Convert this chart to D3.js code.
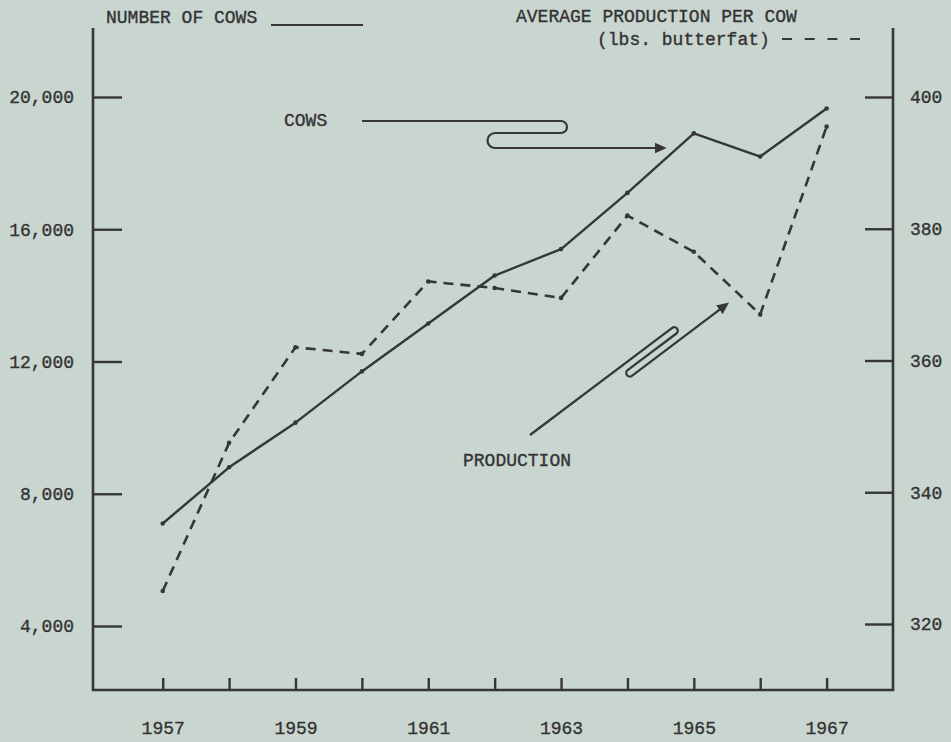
<!DOCTYPE html>
<html>
<head>
<meta charset="utf-8">
<script src="https://cdn.jsdelivr.net/npm/d3@7"></script>
<style>
  body { margin: 0; background: #c9d5cf; }
  svg { display: block; }
  text { font-family: "Liberation Mono", "Courier New", monospace; font-size: 18px; fill: #333; stroke: #333; stroke-width: 0.35px; }
</style>
</head>
<body>
<div id="chart"></div>
<script>
// data
var years = [1957, 1958, 1959, 1960, 1961, 1962, 1963, 1964, 1965, 1966, 1967];
var cows = [7100, 8800, 10150, 11700, 13150, 14600, 15400, 17100, 18900, 18200, 19650];
var production = [325, 347.5, 362, 361, 372, 371, 369.5, 382, 376.5, 367, 395.5];

var cowTicks = [4000, 8000, 12000, 16000, 20000];
var prodTicks = [320, 340, 360, 380, 400];
var yearLabels = [1957, 1959, 1961, 1963, 1965, 1967];

var svgWidth = 951;
var svgHeight = 742;
var ink = "#363636";

// plot frame
var box = { left: 93, right: 893, top: 28, bottom: 690 };

var svg = d3.select("#chart")
  .append("svg")
  .attr("width", svgWidth)
  .attr("height", svgHeight);

var x = d3.scaleLinear().domain([1955.95, 1968]).range([box.left, box.right]);
var yCows = d3.scaleLinear().domain([4000, 20000]).range([626, 97]);
var yProd = d3.scaleLinear().domain([320, 400]).range([624, 97]);

// frame: left, bottom, right
svg.append("path")
  .attr("d", "M" + box.left + "," + box.top + "V" + box.bottom + "H" + box.right + "V" + box.top)
  .attr("fill", "none")
  .attr("stroke", ink)
  .attr("stroke-width", 2.6);

function styleAxis(g) {
  g.select(".domain").remove();
  g.selectAll(".tick line").attr("stroke", ink).attr("stroke-width", 2.4);
  g.selectAll(".tick text").attr("fill", "#333").style("font-size", "18px");
}

// left axis (cows)
svg.append("g")
  .attr("transform", "translate(" + box.left + ",0)")
  .call(d3.axisLeft(yCows).tickValues(cowTicks).tickSize(-29).tickPadding(19).tickFormat(d3.format(",")))
  .call(styleAxis);

// right axis (production)
svg.append("g")
  .attr("transform", "translate(" + box.right + ",0)")
  .call(d3.axisRight(yProd).tickValues(prodTicks).tickSize(-28).tickPadding(17))
  .call(styleAxis);

// bottom axis (years)
svg.append("g")
  .attr("transform", "translate(0," + box.bottom + ")")
  .call(d3.axisBottom(x).tickValues(years).tickSize(-12).tickPadding(31)
    .tickFormat(function(d) { return yearLabels.indexOf(d) >= 0 ? d : ""; }))
  .call(styleAxis);

// series lines
var cowLine = d3.line()
  .x(function(d, i) { return x(years[i]); })
  .y(function(d) { return yCows(d); });

var prodLine = d3.line()
  .x(function(d, i) { return x(years[i]); })
  .y(function(d) { return yProd(d); });

svg.append("path")
  .datum(cows)
  .attr("d", cowLine)
  .attr("fill", "none")
  .attr("stroke", ink)
  .attr("stroke-width", 2.4)
  .attr("stroke-linejoin", "round");

svg.append("path")
  .datum(production)
  .attr("d", prodLine)
  .attr("fill", "none")
  .attr("stroke", ink)
  .attr("stroke-width", 2.6)
  .attr("stroke-dasharray", "10,7");

svg.selectAll(".cowDot")
  .data(cows)
  .enter()
  .append("circle")
  .attr("cx", function(d, i) { return x(years[i]); })
  .attr("cy", function(d) { return yCows(d); })
  .attr("r", 2.3)
  .attr("fill", ink);

svg.selectAll(".prodDot")
  .data(production)
  .enter()
  .append("circle")
  .attr("cx", function(d, i) { return x(years[i]); })
  .attr("cy", function(d) { return yProd(d); })
  .attr("r", 2.3)
  .attr("fill", ink);

// headings
svg.append("text").attr("x", 106).attr("y", 23).text("NUMBER OF COWS");
svg.append("line")
  .attr("x1", 271).attr("x2", 363).attr("y1", 25).attr("y2", 25)
  .attr("stroke", ink).attr("stroke-width", 2);

svg.append("text").attr("x", 516).attr("y", 22).text("AVERAGE PRODUCTION PER COW");
svg.append("text").attr("x", 597).attr("y", 45).text("(lbs. butterfat)");
svg.append("line")
  .attr("x1", 782).attr("x2", 860).attr("y1", 39).attr("y2", 39)
  .attr("stroke", ink).attr("stroke-width", 2)
  .attr("stroke-dasharray", "10,12.7");

// arrowhead marker
svg.append("defs").append("marker")
  .attr("id", "arrow")
  .attr("viewBox", "0 0 10 10")
  .attr("refX", 2).attr("refY", 5)
  .attr("markerWidth", 5.5).attr("markerHeight", 5.5)
  .attr("markerUnits", "strokeWidth")
  .attr("orient", "auto")
  .append("path")
  .attr("d", "M0,0.5L10,5L0,9.5Z")
  .attr("fill", ink);

// COWS label with looped arrow
svg.append("text").attr("x", 284).attr("y", 126).text("COWS");
svg.append("path")
  .attr("d", "M362,121H561A6,6 0 0 1 561,133H495A7.5,7.5 0 0 0 495,148H657")
  .attr("fill", "none")
  .attr("stroke", ink)
  .attr("stroke-width", 2.2)
  .attr("marker-end", "url(#arrow)");

// PRODUCTION label with looped arrow
svg.append("text").attr("x", 463).attr("y", 466).text("PRODUCTION");

var a = [530, 435];
var u = [0.7986, -0.6018];
var n = [0.6018, 0.7986];
var w = 7;
function pt(t, k) {
  return (a[0] + t * u[0] + k * w * n[0]).toFixed(1) + "," + (a[1] + t * u[1] + k * w * n[1]).toFixed(1);
}
svg.append("path")
  .attr("d", "M" + pt(0, 0) + "L" + pt(178, 0) +
    "A" + w / 2 + "," + w / 2 + " 0 0 1 " + pt(178, 1) +
    "L" + pt(117, 1) +
    "A" + w / 2 + "," + w / 2 + " 0 0 0 " + pt(117, 2) +
    "L" + pt(229, 2))
  .attr("fill", "none")
  .attr("stroke", ink)
  .attr("stroke-width", 2.2)
  .attr("marker-end", "url(#arrow)");
</script>
</body>
</html>
